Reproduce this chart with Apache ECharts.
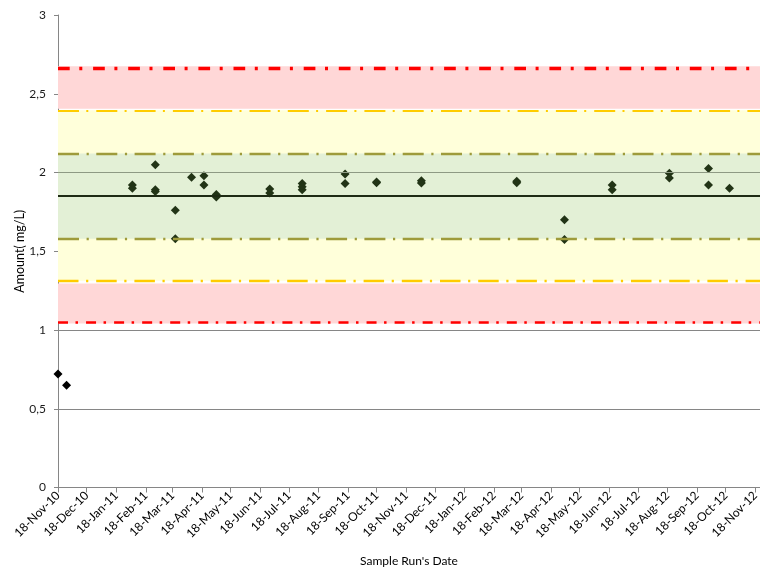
<!DOCTYPE html>
<html>
<head>
<meta charset="utf-8">
<script src="https://cdn.jsdelivr.net/npm/echarts@6/dist/echarts.min.js"></script>
<style>
  html, body { margin: 0; padding: 0; background: #ffffff; }
  #chart { width: 760px; height: 572px; }
</style>
</head>
<body>
<div id="chart"></div>
<script>
// Sample runs before the method settled (drawn in black)
const earlyDates  = ['2010-11-18', '2010-11-27'];
const earlyValues = [0.72, 0.65];

// Control sample runs, amount in mg/L
const runDates = [
  '2011-02-04', '2011-02-04',
  '2011-02-28', '2011-02-28', '2011-02-28',
  '2011-03-21', '2011-03-21',
  '2011-04-07',
  '2011-04-20', '2011-04-20',
  '2011-05-03', '2011-05-03',
  '2011-06-28', '2011-06-28',
  '2011-08-01', '2011-08-01', '2011-08-01',
  '2011-09-15', '2011-09-15',
  '2011-10-18', '2011-10-18',
  '2011-12-04', '2011-12-04',
  '2012-03-13', '2012-03-13',
  '2012-05-02', '2012-05-02',
  '2012-06-21', '2012-06-21',
  '2012-08-20', '2012-08-20',
  '2012-09-30', '2012-09-30',
  '2012-10-22'
];
const runValues = [
  1.92, 1.90,
  2.05, 1.89, 1.88,
  1.76, 1.58,
  1.97,
  1.98, 1.92,
  1.86, 1.845,
  1.895, 1.87,
  1.93, 1.91, 1.89,
  1.99, 1.93,
  1.94, 1.935,
  1.947, 1.934,
  1.945, 1.935,
  1.70, 1.575,
  1.92, 1.89,
  1.995, 1.965,
  2.025, 1.92,
  1.90
];

// Control limits: mean and the ±1, ±2, ±3 SD lines
const meanValue = 1.852;
const sd1Limits = [1.581, 2.122];
const sd2Limits = [1.314, 2.391];
const sd3Limits = [1.050, 2.663];

// Shaded zones [low, high]
const redZones    = [[2.405, 2.675], [1.042, 1.296]];
const yellowZone  = [1.312, 2.395];
const greenZone   = [1.580, 2.120];

// Axis ticks
const monthTicks = [
  '2010-11-18', '2010-12-18', '2011-01-18', '2011-02-18', '2011-03-18',
  '2011-04-18', '2011-05-18', '2011-06-18', '2011-07-18', '2011-08-18',
  '2011-09-18', '2011-10-18', '2011-11-18', '2011-12-18', '2012-01-18',
  '2012-02-18', '2012-03-18', '2012-04-18', '2012-05-18', '2012-06-18',
  '2012-07-18', '2012-08-18', '2012-09-18', '2012-10-18', '2012-11-18'
];
const xStart = '2010-11-18';
const xEnd   = '2012-11-23';
const yTicks = [0, 0.5, 1, 1.5, 2, 2.5, 3];

const MONTHS = ['Jan','Feb','Mar','Apr','May','Jun','Jul','Aug','Sep','Oct','Nov','Dec'];
const ts = s => Date.parse(s + 'T00:00:00Z');
const fmtDate = v => {
  const d = new Date(v);
  return d.getUTCDate() + '-' + MONTHS[d.getUTCMonth()] + '-' + String(d.getUTCFullYear()).slice(2);
};

const FONT = 'Lato, "Open Sans", sans-serif';
const GRID_GRAY = '#868686';

function hLine(value, color, width, dash) {
  return {
    yAxis: value,
    lineStyle: { color: color, width: width, type: dash || 'solid', cap: 'butt' }
  };
}

const chart = echarts.init(document.getElementById('chart'), null, { renderer: 'canvas' });

chart.setOption({
  animation: false,
  backgroundColor: '#ffffff',
  grid: { left: 58, right: 0, top: 15, bottom: 84.5, containLabel: false, outerBoundsMode: 'none' },
  xAxis: {
    type: 'value',
    min: ts(xStart),
    max: ts(xEnd),
    scale: true,
    name: "Sample Run's Date",
    nameLocation: 'middle',
    nameGap: 68,
    nameMoveOverlap: false,
    nameTextStyle: { fontFamily: FONT, fontSize: 12, color: '#000000' },
    axisLine: { show: true, lineStyle: { color: GRID_GRAY, width: 1 } },
    axisTick: {
      show: true, length: 5, inside: false,
      lineStyle: { color: GRID_GRAY },
      customValues: monthTicks.map(ts)
    },
    axisLabel: {
      rotate: 45,
      margin: 6,
      fontFamily: FONT,
      fontSize: 12,
      color: '#000000',
      customValues: monthTicks.map(ts),
      formatter: v => fmtDate(v),
      hideOverlap: false
    },
    splitLine: { show: false }
  },
  yAxis: {
    type: 'value',
    min: yTicks[0],
    max: yTicks[yTicks.length - 1],
    interval: yTicks[1] - yTicks[0],
    name: 'Amount( mg/L)',
    nameLocation: 'middle',
    nameGap: 32,
    nameMoveOverlap: false,
    nameTextStyle: { fontFamily: FONT, fontSize: 12.5, color: '#000000' },
    axisLine: { show: true, lineStyle: { color: GRID_GRAY, width: 1 } },
    axisTick: { show: true, length: 4, inside: false, lineStyle: { color: GRID_GRAY } },
    axisLabel: {
      margin: 12,
      fontFamily: FONT,
      fontSize: 12,
      color: '#1a1a1a',
      formatter: v => String(v).replace('.', ',')
    },
    splitLine: { show: true, showMaxLine: false, lineStyle: { color: GRID_GRAY, width: 1 } }
  },
  series: [
    {
      name: 'zones',
      type: 'line',
      data: [],
      z: 1,
      silent: true,
      markArea: {
        silent: true,
        label: { show: false },
        data: [
          [{ yAxis: redZones[0][0], itemStyle: { color: '#FFD7D7' } }, { yAxis: redZones[0][1] }],
          [{ yAxis: redZones[1][0], itemStyle: { color: '#FFD7D7' } }, { yAxis: redZones[1][1] }],
          [{ yAxis: yellowZone[0], itemStyle: { color: '#FFFFDA' } }, { yAxis: yellowZone[1] }],
          [{ yAxis: greenZone[0],  itemStyle: { color: '#E3F0D6' } }, { yAxis: greenZone[1] }]
        ]
      }
    },
    {
      name: 'limits',
      type: 'line',
      data: [],
      z: 2,
      silent: true,
      markLine: {
        silent: true,
        symbol: ['none', 'none'],
        label: { show: false },
        data: [
          // gridline at 2 shows through the green zone
          hLine(yTicks[4], '#8E9A84', 1),
          hLine(sd3Limits[1], '#FF0000', 3.4, [11.7, 9.6, 3, 10.8]),
          hLine(sd3Limits[0], '#FF0000', 2.7, [10, 7.5, 2.5, 8.05]),
          hLine(sd2Limits[1], '#FFCC00', 1.9, [21, 7.3, 2, 8]),
          hLine(sd2Limits[0], '#FFCC00', 2.3, [20.5, 7.6, 2.2, 7.9]),
          hLine(sd1Limits[1], '#9E9B3B', 2.3, [21, 7.6, 2.2, 7.5]),
          hLine(sd1Limits[0], '#9E9B3B', 2.3, [21, 7.6, 2.2, 7.5]),
          hLine(meanValue, '#1E2B14', 2)
        ]
      }
    },
    {
      name: 'early runs',
      type: 'scatter',
      z: 3,
      symbol: 'diamond',
      symbolSize: 9,
      itemStyle: { color: '#000000', opacity: 1 },
      data: earlyDates.map((d, i) => [ts(d), earlyValues[i]])
    },
    {
      name: 'control runs',
      type: 'scatter',
      z: 3,
      symbol: 'diamond',
      symbolSize: 9,
      itemStyle: { color: '#223416', opacity: 1 },
      data: runDates.map((d, i) => [ts(d), runValues[i]])
    }
  ]
});
</script>
</body>
</html>
